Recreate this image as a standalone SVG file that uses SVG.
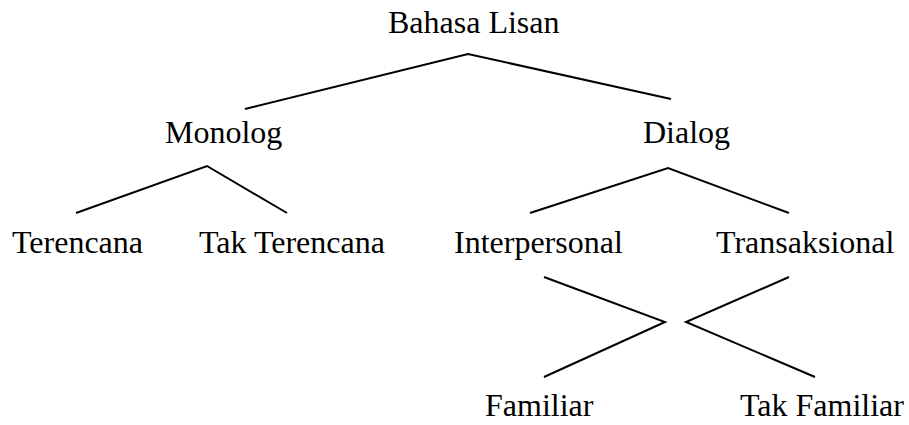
<svg xmlns="http://www.w3.org/2000/svg" width="909" height="425" viewBox="0 0 909 425">
<style>
text{font-family:"Liberation Serif","Times New Roman",serif;font-size:32px;fill:#000}
.c{fill:none;stroke:#000;stroke-width:2}
</style>
<rect width="909" height="425" fill="#fff"/>
<g id="connectors">
<polyline class="c" points="245,109 468,54 671,99"/>
<polyline class="c" points="76,213 207,166 287,213"/>
<polyline class="c" points="530,213 668,168 789,213"/>
<polyline class="c" points="544,277 665,322 544,377"/>
<polyline class="c" points="789,277 686,322 815,377"/>
</g>
<g id="bahasa-lisan"><text x="388" y="33">Bahasa Lisan</text></g>
<g id="monolog"><text x="165" y="143">Monolog</text></g>
<g id="dialog"><text x="643" y="143">Dialog</text></g>
<g id="terencana"><text x="12" y="253">Terencana</text></g>
<g id="tak-terencana"><text x="199" y="253">Tak Terencana</text></g>
<g id="interpersonal"><text x="454" y="253">Interpersonal</text></g>
<g id="transaksional"><text x="716" y="253">Transaksional</text></g>
<g id="familiar"><text x="485" y="416">Familiar</text></g>
<g id="tak-familiar"><text x="740" y="416">Tak Familiar</text></g>
</svg>
